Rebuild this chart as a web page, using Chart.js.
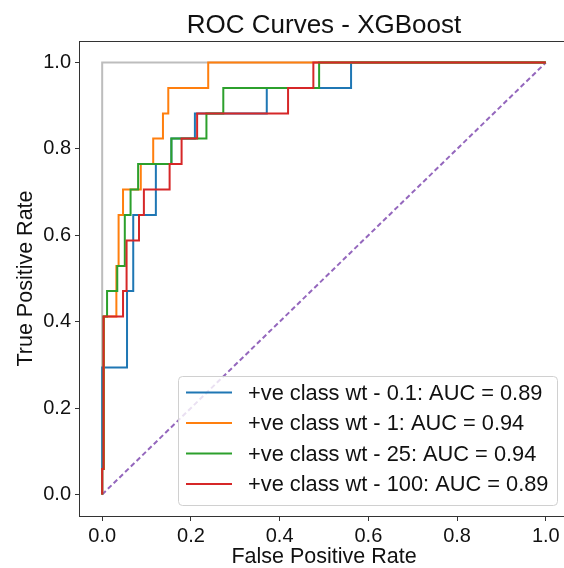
<!DOCTYPE html>
<html>
<head>
<meta charset="utf-8">
<script src="https://cdn.jsdelivr.net/npm/chart.js@4.4.0/dist/chart.umd.min.js"></script>
<style>
  html, body { margin: 0; padding: 0; overflow: hidden; background: #fff; }
  #wrap { width: 564px; height: 568px; overflow: hidden; }
</style>
</head>
<body>
<div id="wrap"><canvas id="rocChart" width="572" height="568"></canvas></div>
<script>
// values (fpr / tpr corner points of each ROC curve)
const chartTitle = 'ROC Curves - XGBoost';
const curveLabels = [
	'+ve class wt - 0.1: AUC = 0.89',
	'+ve class wt - 1: AUC = 0.94',
	'+ve class wt - 25: AUC = 0.94',
	'+ve class wt - 100: AUC = 0.89'
];

const fprWt01 = [0, 0, 0.056, 0.056, 0.070, 0.070, 0.121, 0.121, 0.156, 0.156, 0.209, 0.209, 0.371, 0.371, 0.561, 0.561, 1];
const tprWt01 = [0, 0.294, 0.294, 0.471, 0.471, 0.647, 0.647, 0.765, 0.765, 0.824, 0.824, 0.882, 0.882, 0.941, 0.941, 1, 1];

const fprWt1 = [0, 0, 0.004, 0.004, 0.032, 0.032, 0.037, 0.037, 0.047, 0.047, 0.087, 0.087, 0.115, 0.115, 0.137, 0.137, 0.149, 0.149, 0.239, 0.239, 1];
const tprWt1 = [0, 0.059, 0.059, 0.412, 0.412, 0.529, 0.529, 0.647, 0.647, 0.706, 0.706, 0.765, 0.765, 0.824, 0.824, 0.882, 0.882, 0.941, 0.941, 1, 1];

const fprWt25 = [0, 0, 0.003, 0.003, 0.011, 0.011, 0.034, 0.034, 0.051, 0.051, 0.064, 0.064, 0.081, 0.081, 0.156, 0.156, 0.235, 0.235, 0.273, 0.273, 0.489, 0.489, 1];
const tprWt25 = [0, 0.059, 0.059, 0.412, 0.412, 0.471, 0.471, 0.529, 0.529, 0.647, 0.647, 0.706, 0.706, 0.765, 0.765, 0.824, 0.824, 0.882, 0.882, 0.941, 0.941, 1, 1];

const fprWt100 = [0, 0, 0.003, 0.003, 0.047, 0.047, 0.055, 0.055, 0.083, 0.083, 0.094, 0.094, 0.152, 0.152, 0.179, 0.179, 0.214, 0.214, 0.419, 0.419, 0.476, 0.476, 1];
const tprWt100 = [0, 0.059, 0.059, 0.412, 0.412, 0.471, 0.471, 0.588, 0.588, 0.647, 0.647, 0.706, 0.706, 0.765, 0.765, 0.824, 0.824, 0.882, 0.882, 0.941, 0.941, 1, 1];

const chanceX = [0, 1];
const chanceY = [0, 1];
const perfectX = [0, 0, 1];
const perfectY = [0, 1, 1];

const axisTicks = [0, 0.2, 0.4, 0.6, 0.8, 1.0];

const curveColors = ['#1f77b4', '#ff7f0e', '#2ca02c', '#d62728'];
const fontName = '"Liberation Sans", Arial, sans-serif';

function toPoints(xs, ys) {
	return xs.map((x, i) => ({ x: x, y: ys[i] }));
}

const curves = [
	[fprWt01, tprWt01],
	[fprWt1, tprWt1],
	[fprWt25, tprWt25],
	[fprWt100, tprWt100]
];

const datasets = curves.map((c, i) => ({
	label: curveLabels[i],
	data: toPoints(c[0], c[1]),
	borderColor: curveColors[i],
	borderWidth: 2,
	order: 4 - i, // red drawn last, like matplotlib
	inLegend: true
}));

datasets.push({
	label: 'perfect',
	data: toPoints(perfectX, perfectY),
	borderColor: '#bdbdbd',
	borderWidth: 2,
	order: 6
});
datasets.push({
	label: 'chance',
	data: toPoints(chanceX, chanceY),
	borderColor: '#9467bd',
	borderWidth: 2,
	borderDash: [5, 3],
	order: 5
});

// title, spines and the legend box, drawn like the matplotlib figure
const rocDecor = {
	id: 'rocDecor',
	afterDatasetsDraw(chart) {
		const ctx = chart.ctx;
		const area = chart.chartArea;
		ctx.save();

		// spines
		ctx.strokeStyle = '#333';
		ctx.lineWidth = 1;
		ctx.strokeRect(area.left - 0.5, area.top + 0.5, area.right - area.left, area.bottom - area.top);

		// title
		ctx.fillStyle = '#111';
		ctx.font = '26px ' + fontName;
		ctx.textAlign = 'center';
		ctx.textBaseline = 'alphabetic';
		ctx.fillText(chartTitle, (area.left + area.right) / 2, 33);

		// legend
		const bx = 178, by = 376, bw = 379, bh = 129;
		ctx.beginPath();
		ctx.roundRect(bx + 0.5, by + 0.5, bw, bh, 4);
		ctx.fillStyle = 'rgba(255,255,255,0.8)';
		ctx.fill();
		ctx.strokeStyle = '#d0d0d0';
		ctx.stroke();

		const rows = chart.data.datasets.filter(d => d.inLegend);
		ctx.font = '21.8px ' + fontName;
		ctx.textAlign = 'left';
		ctx.textBaseline = 'middle';
		rows.forEach((d, i) => {
			const y = by + 16.5 + i * 30.5;
			ctx.beginPath();
			ctx.moveTo(bx + 8, y);
			ctx.lineTo(bx + 54, y);
			ctx.strokeStyle = d.borderColor;
			ctx.lineWidth = 2;
			ctx.stroke();
			ctx.fillStyle = '#111';
			ctx.fillText(d.label, bx + 70, y + 1);
		});
		ctx.restore();
	}
};

const tickFont = { family: fontName, size: 20 };
const titleFont = { family: fontName, size: 21.5 };

const ctx = document.getElementById('rocChart').getContext('2d');
const rocChart = new Chart(ctx, {
	type: 'line',
	data: { datasets: datasets },
	options: {
		responsive: false,
		animation: false,
		layout: { padding: { top: 41, right: 4, left: 0, bottom: 0 } },
		elements: { point: { radius: 0 }, line: { tension: 0 } },
		plugins: {
			legend: { display: false },
			tooltip: { enabled: false }
		},
		scales: {
			x: {
				type: 'linear',
				min: -0.05,
				max: 1.05,
				afterBuildTicks: s => { s.ticks = axisTicks.map(v => ({ value: v })); },
				afterFit: s => { s.height = 52; },
				border: { display: false },
				grid: { drawOnChartArea: false, drawTicks: true, tickLength: 5, tickColor: '#333' },
				ticks: { font: tickFont, color: '#111', padding: 3, maxRotation: 0, callback: v => v.toFixed(1) },
				title: { display: true, text: 'False Positive Rate', font: titleFont, color: '#111', padding: { top: 0, bottom: -2 } }
			},
			y: {
				type: 'linear',
				min: -0.05,
				max: 1.05,
				afterBuildTicks: s => { s.ticks = axisTicks.map(v => ({ value: v })); },
				afterFit: s => { s.width = 80; },
				border: { display: false },
				grid: { drawOnChartArea: false, drawTicks: true, tickLength: 5, tickColor: '#333' },
				ticks: { font: tickFont, color: '#111', padding: 4, callback: v => v.toFixed(1) },
				title: { display: true, text: 'True Positive Rate', font: titleFont, color: '#111', padding: { top: 13, bottom: 0 } }
			}
		}
	},
	plugins: [rocDecor]
});
</script>
</body>
</html>
